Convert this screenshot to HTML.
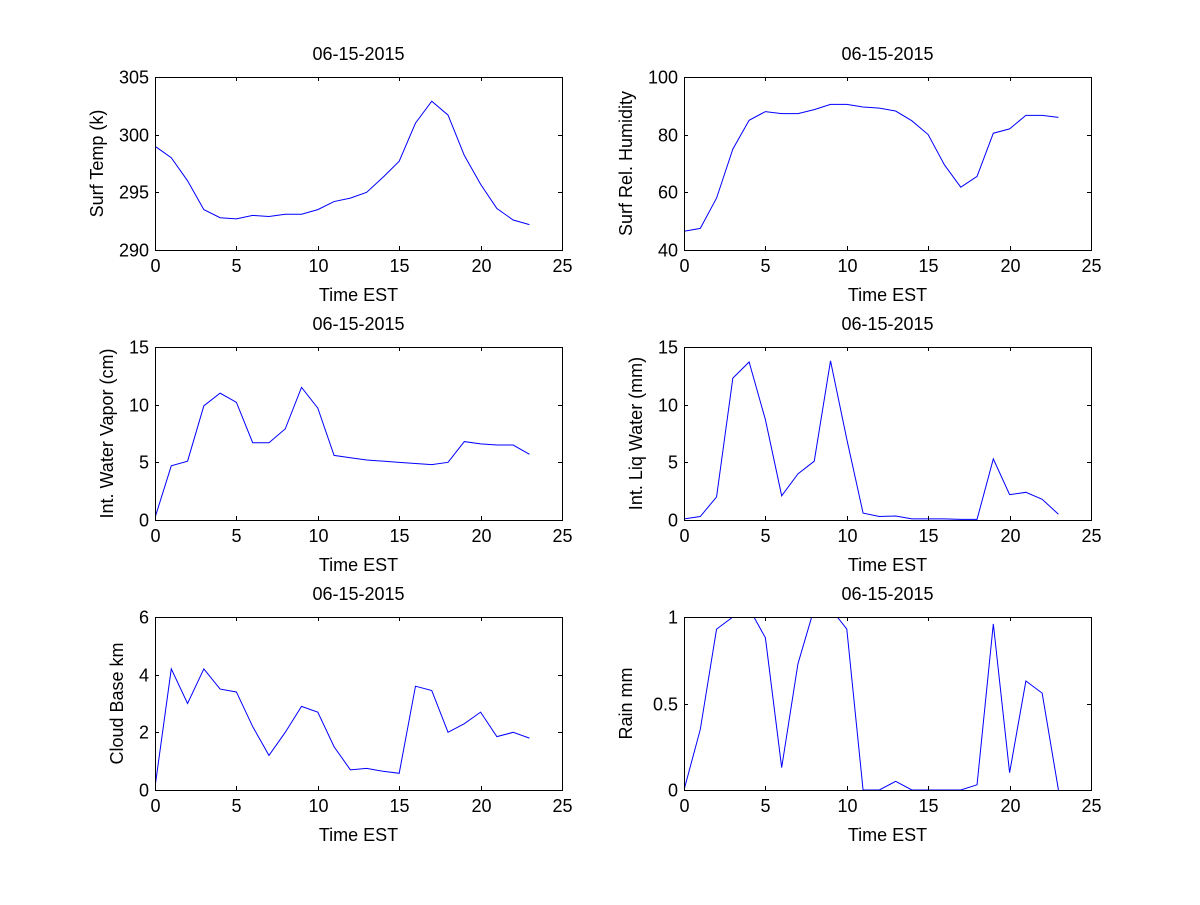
<!DOCTYPE html>
<html><head><meta charset="utf-8"><style>
body{margin:0;background:#fff;}
svg text{font-family:"Liberation Sans",Arial,sans-serif;font-size:18px;fill:#000;}
</style></head><body>
<svg id="fig" width="1200" height="900" xmlns="http://www.w3.org/2000/svg"></svg>
<script>
const hours=[0,1,2,3,4,5,6,7,8,9,10,11,12,13,14,15,16,17,18,19,20,21,22,23];
const xTicks=[0,5,10,15,20,25];
const tempVals=[299,298,296,293.5,292.8,292.7,293,292.9,293.1,293.1,293.5,294.2,294.5,295,296.3,297.7,301,302.9,301.7,298.2,295.7,293.6,292.6,292.2];
const rhVals=[46.5,47.5,58,75,85,88,87.3,87.3,88.7,90.5,90.5,89.6,89.2,88.2,84.8,80,69.5,61.8,65.5,80.5,82,86.7,86.7,86];
const vaporVals=[0.2,4.7,5.1,9.9,11,10.2,6.7,6.7,7.9,11.5,9.7,5.6,5.4,5.2,5.1,5.0,4.9,4.8,5.0,6.8,6.6,6.5,6.5,5.7];
const liqVals=[0.1,0.3,2,12.3,13.7,8.7,2.1,4,5.1,13.8,7,0.6,0.3,0.35,0.1,0.1,0.1,0.05,0.05,5.3,2.2,2.4,1.8,0.5];
const cloudVals=[0.1,4.2,3.0,4.2,3.5,3.4,2.2,1.2,2.0,2.9,2.7,1.5,0.7,0.75,0.65,0.58,3.6,3.45,2.0,2.3,2.7,1.85,2.0,1.8];
const rainVals=[0,0.35,0.93,1.0,1.05,0.88,0.13,0.73,1.05,1.05,0.93,0,0,0.05,0,0,0,0,0.03,0.96,0.1,0.63,0.56,0];
const tempTicks=[290,295,300,305];
const rhTicks=[40,60,80,100];
const vaporTicks=[0,5,10,15];
const liqTicks=[0,5,10,15];
const cloudTicks=[0,2,4,6];
const rainTicks=[0,0.5,1];
const panels=[
 {name:'surf-temp',x:155,y:77,vals:tempVals,ticks:tempTicks,lab:['290','295','300','305'],yl:'Surf Temp (k)'},
 {name:'surf-rel-humidity',x:684,y:77,vals:rhVals,ticks:rhTicks,lab:['40','60','80','100'],yl:'Surf Rel. Humidity'},
 {name:'int-water-vapor',x:155,y:347,vals:vaporVals,ticks:vaporTicks,lab:['0','5','10','15'],yl:'Int. Water Vapor (cm)'},
 {name:'int-liq-water',x:684,y:347,vals:liqVals,ticks:liqTicks,lab:['0','5','10','15'],yl:'Int. Liq Water (mm)'},
 {name:'cloud-base',x:155,y:617,vals:cloudVals,ticks:cloudTicks,lab:['0','2','4','6'],yl:'Cloud Base km'},
 {name:'rain',x:684,y:617,vals:rainVals,ticks:rainTicks,lab:['0','0.5','1'],yl:'Rain mm'}
];
const NS='http://www.w3.org/2000/svg';
const svg=document.getElementById('fig');
function mk(t,a,p){const e=document.createElementNS(NS,t);for(const k in a)e.setAttribute(k,a[k]);(p||svg).appendChild(e);return e;}
const W=407,H=173;
panels.forEach((p,i)=>{
 const g=mk('g',{});
 
 
 const y0=p.ticks[0],y1=p.ticks[p.ticks.length-1];
 const sx=v=>p.x+v/25*W;
 const sy=v=>p.y+H-(v-y0)/(y1-y0)*H;
 const cp=mk('clipPath',{id:'cp'+i},g);
 mk('rect',{x:p.x,y:p.y,width:W,height:H},cp);
 const line=mk('polyline',{points:hours.map((h,k)=>sx(h)+','+sy(p.vals[k])).join(' '),fill:'none',stroke:'#0000ff','stroke-width':1,'clip-path':'url(#cp'+i+')'},g);
 
 
 mk('rect',{x:p.x+0.5,y:p.y+0.5,width:W,height:H,fill:'none',stroke:'#000','stroke-width':1},g);
 xTicks.forEach(t=>{const x=Math.round(sx(t))+0.5;
  mk('line',{x1:x,x2:x,y1:p.y+H,y2:p.y+H-4,stroke:'#000'},g);
  mk('line',{x1:x,x2:x,y1:p.y,y2:p.y+4,stroke:'#000'},g);
  const tx=mk('text',{x:x,y:p.y+H+22,'text-anchor':'middle'},g);tx.textContent=t;
  
  
 });
 p.ticks.forEach((t,k)=>{const y=Math.round(sy(t))+0.5;
  mk('line',{x1:p.x,x2:p.x+4,y1:y,y2:y,stroke:'#000'},g);
  mk('line',{x1:p.x+W,x2:p.x+W-4,y1:y,y2:y,stroke:'#000'},g);
  const tx=mk('text',{x:p.x-6,y:y+6,'text-anchor':'end'},g);tx.textContent=p.lab[k];
  
  
 });
 const ti=mk('text',{x:p.x+W/2,y:p.y-17,'text-anchor':'middle'},g);ti.textContent='06-15-2015';
 
 
 const xl=mk('text',{x:p.x+W/2,y:p.y+H+51,'text-anchor':'middle'},g);xl.textContent='Time EST';
 
 
 const lw=p.lab.reduce((m,s)=>Math.max(m,s.length),0)*10;
 const yx=p.x-lw-22;
 const yl=mk('text',{x:yx,y:p.y+H/2,'text-anchor':'middle',transform:'rotate(-90 '+yx+' '+(p.y+H/2)+')'},g);yl.textContent=p.yl;
 
 
});
</script>
</body></html>
